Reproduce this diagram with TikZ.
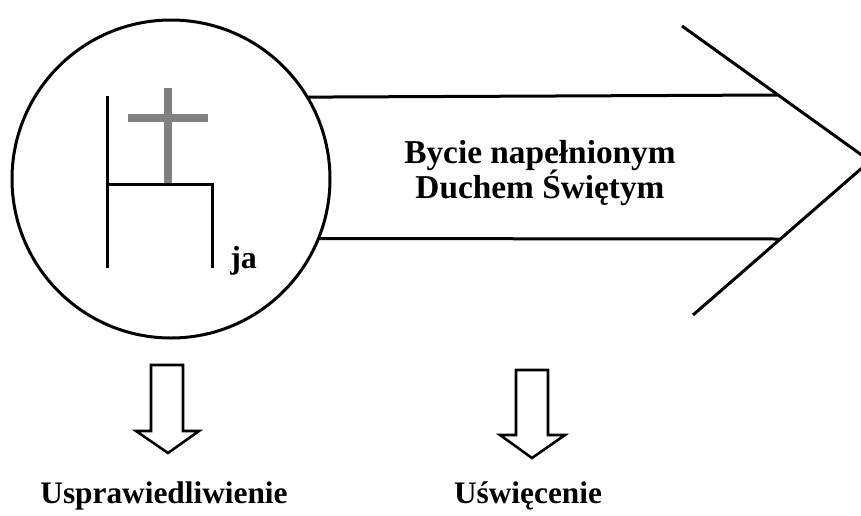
\documentclass[tikz,border=0pt]{standalone}
\usepackage{fontspec}
\setmainfont{Liberation Serif}
\begin{document}
\begin{tikzpicture}[x=0.75pt,y=-0.75pt,
  thickline/.style={line width=2.25pt, draw=black},
  crossline/.style={line width=6.5pt, draw=gray},
  blockarrow/.style={line width=1.9pt, draw=black, line join=miter},
  lbl/.style={font=\bfseries\fontsize{23.5}{28}\selectfont, inner sep=0pt, anchor=base},
  ttl/.style={font=\bfseries\fontsize{25}{30}\selectfont, inner sep=0pt, anchor=base}]
\useasboundingbox (0,0) rectangle (861,515);
% circle
\node[circle, thickline, minimum size=238.5pt, inner sep=0pt, outer sep=0pt] (c) at (171,179) {};
% arrow body
\coordinate (tr) at (777,95);
\coordinate (br) at (780,239);
\coordinate (tip) at (870,161);
\coordinate (hu) at (682,26);
\coordinate (hl) at (693,315);
\draw[thickline] (c.31.9) -- (tr);
\draw[thickline] (c.-22.2) -- (br);
\draw[thickline] (hu) -- (tip) -- (hl);
% chair and cross
\draw[crossline] (168,88) -- (168,184);
\draw[crossline] (128,118) -- (208,118);
\draw[thickline] (107,96) -- (107,268);
\draw[thickline] (107,184) -- (212,184) -- (212,268);
\node[lbl, anchor=base west, font=\bfseries\fontsize{24}{28}\selectfont] (ja) at (230,268) {ja};
% title
\node[ttl] (t1) at (540,163) {Bycie napełnionym};
\node[ttl] (t2) at (540,198) {Duchem Świętym};
% down arrows
\draw[blockarrow] (151,365) -- (183,365) -- (183,431) -- (199,431) -- (168,453) -- (136,431) -- (151,431) -- cycle;
\draw[blockarrow] (516,370) -- (548,370) -- (548,435) -- (565,435) -- (532,458) -- (500,435) -- (516,435) -- cycle;
% bottom labels
\node[lbl] (u) at (164,503) {Usprawiedliwienie};
\node[lbl] (s) at (528,503) {Uświęcenie};
\end{tikzpicture}
\end{document}
